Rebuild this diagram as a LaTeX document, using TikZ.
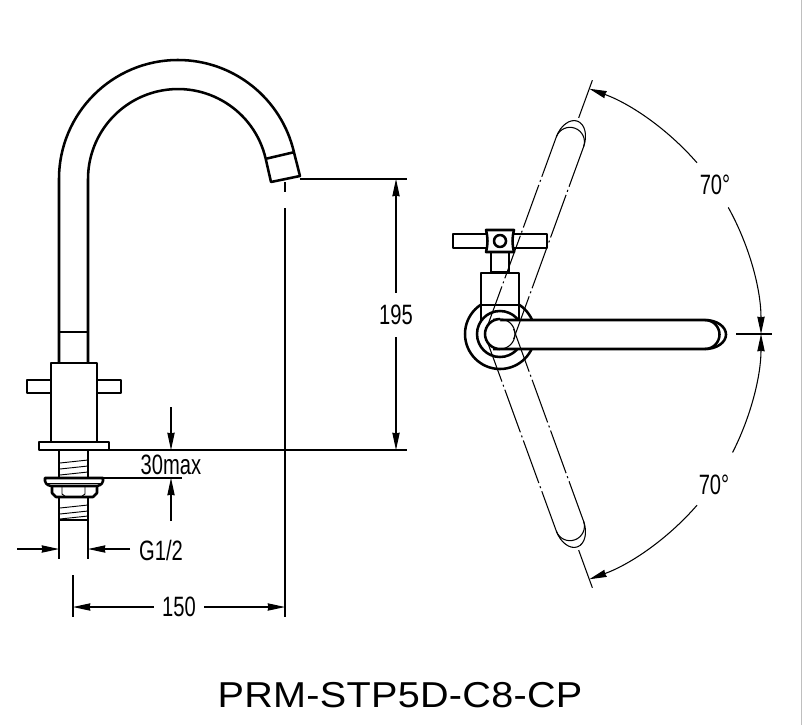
\documentclass[tikz,border=0pt]{standalone}
\usepackage{fontspec}
\usepackage{tikz}
\usetikzlibrary{arrows.meta,calc}
\newfontfamily\dimfont[FakeStretch=0.72]{Liberation Sans}
\newfontfamily\titlefont[FakeStretch=1.1,LetterSpace=0.8]{Liberation Sans}
\tikzset{
    thickline/.style={line width=1.9pt,line join=round},
    threadline/.style={line width=0.7pt},
    thinline/.style={line width=0.8pt},
    dimline/.style={line width=0.8pt,-{Stealth[length=13pt,width=5.5pt,inset=0.5pt]}},
    ghostline/.style={line width=0.8pt,dash pattern=on 34pt off 2.5pt on 1.5pt off 2.5pt},
    dimlabel/.style={font=\dimfont\fontsize{21}{21}\selectfont,inner sep=0pt},
    titlelabel/.style={font=\titlefont\fontsize{27}{27}\selectfont,inner sep=0pt}
}

\begin{document}
\begin{tikzpicture}[x=0.75pt,y=0.75pt,yscale=-1]
    \useasboundingbox (0,0) rectangle (805,725);
    \draw[lightgray,line width=0.8pt] (801.5,0) -- (801.5,725);

    \coordinate (hub) at (500,334);

    % spout
    \draw[thickline] (59,363) -- (59,179) arc[start angle=180,end angle=347,radius=119] -- (300,176) -- (271,182) -- (265.7,158.8) arc[start angle=347,end angle=180,radius=90] -- (88,363);
    \draw[thickline] (265.7,158.8) -- (294,152.2);
    \draw[thickline] (59,332) -- (88,332);

    % body
    \draw[thickline] (51,363) rectangle (97,442);
    \draw[thickline] (51,380) -- (27,380) -- (27,393) -- (51,393);
    \draw[thickline] (97,380) -- (121,380) -- (121,393) -- (97,393);
    \draw[thickline] (39,442) rectangle (109,450);
    \draw[thickline] (59,450) -- (59,478);
    \draw[thickline] (88,450) -- (88,478);
    \foreach \y in {462,468,474} {
        \draw[threadline] (60,\y+1) -- (88,\y-2);
    }
    \draw[thickline] (45,478) -- (103,478) -- (103,481) .. controls (102,485) and (99,486) .. (95,486) -- (53,486) .. controls (49,486) and (46,485) .. (45,481) -- cycle;
    \draw[threadline] (47,483) -- (101,483);
    \draw[thickline] (52,486) -- (52,493) -- (56,497) -- (93,497) -- (97,493) -- (97,486);
    \draw[threadline] (62,486) -- (62,494) -- (66,497);
    \draw[threadline] (85,486) -- (85,494) -- (81,497);
    \draw[thickline] (59,497) -- (59,520) -- (88,520) -- (88,497);
    \foreach \y in {507,513,518} {
        \draw[threadline] (60,\y+1) -- (88,\y-2);
    }

    % dimensions on the left view
    \coordinate (g1a) at (59,549);
    \coordinate (g1b) at (88,549);
    \coordinate (far) at (285,607);
    \coordinate (near) at (73,607);
    \draw[thinline] (59,520) -- (59,559);
    \draw[thinline] (88,520) -- (88,559);
    \draw[thinline] (109,450) -- (407,450);
    \draw[thinline] (103,478) -- (182,478);
    \draw[thinline] (300,179) -- (407,179);
    \draw[thinline] (73,575) -- (73,617);
    \draw[thinline] (285,182) -- (285,192);
    \draw[thinline] (285,208) -- (285,617);

    \node[dimlabel] (lblgone) at (161,550) {G1/2};
    \node[dimlabel] (lblthirty) at (171,465) {30max};
    \node[dimlabel,inner xsep=6pt] (lblonefifty) at (179,607) {150};
    \node[dimlabel,inner ysep=9pt] (lblonefive) at (396,315) {195};

    \draw[dimline] (17,549) -- (g1a);
    \draw[dimline] (130,549) -- (g1b);
    \draw[dimline] (171,407) -- (171,450);
    \draw[dimline] (171,521) -- (171,478);
    \draw[dimline] (lblonefifty) -- (near);
    \draw[dimline] (lblonefifty) -- (far);
    \draw[dimline] (lblonefive) -- (396,179);
    \draw[dimline] (lblonefive) -- (396,450);

    % side view
    \draw[thickline] (hub) circle (35);
    \draw[thickline,fill=white] (453,234) rectangle (547,248);
    \draw[thickline,fill=white] (491,252) rectangle (509,272);
    \draw[thickline,fill=white] (486,230) .. controls (488,237) and (488,245) .. (486,252) -- (514,252) .. controls (512,245) and (512,237) .. (514,230) -- cycle;
    \draw[thickline] (500,241) circle (6);
    \fill[white] (481,273) rectangle (519,322);
    \draw[thickline] (481,322) -- (481,273) -- (519,273) -- (519,322);
    \draw[thickline] (481,305) -- (519,305);
    \draw[thickline] (hub) circle (23);
    \fill[white] (498,320) -- (705,320) arc[start angle=-90,end angle=90,radius=14.5] -- (498,349) -- cycle;
    \draw[thickline] (493,320) -- (705,320) arc[start angle=-90,end angle=90,radius=14.5] -- (493,349);
    \draw[thickline] (705,320) arc[start angle=-90,end angle=90,x radius=21,y radius=14.5];
    \draw[thickline,fill=white] (500,319) arc[start angle=-90,end angle=-270,radius=15];
    \draw[thinline] (500,319) arc[start angle=-90,end angle=90,radius=15];

    % swung handle
    \begin{scope}[shift={(hub)},rotate=-70]
        \draw[ghostline] (0,-14.5) -- (204.5,-14.5);
        \draw[ghostline] (0,14.5) -- (204.5,14.5);
        \draw[thinline] (204.5,-14.5) arc[start angle=-90,end angle=90,radius=14.5];
        \draw[thinline] (204.5,-14.5) arc[start angle=-90,end angle=90,x radius=22,y radius=14.5];
    \end{scope}
    \begin{scope}[shift={(hub)},rotate=70]
        \draw[ghostline] (0,-14.5) -- (204.5,-14.5);
        \draw[ghostline] (0,14.5) -- (204.5,14.5);
        \draw[thinline] (204.5,-14.5) arc[start angle=-90,end angle=90,radius=14.5];
        \draw[thinline] (204.5,-14.5) arc[start angle=-90,end angle=90,x radius=22,y radius=14.5];
    \end{scope}

    % angle dimensions
    \draw[thinline] ($(hub)+(-70:230)$) -- ($(hub)+(-70:270)$);
    \draw[thinline] ($(hub)+(70:230)$) -- ($(hub)+(70:270)$);
    \draw[thinline] (736,334) -- (772,334);
    \draw[dimline] ($(hub)+(-41:261)$) arc[start angle=-41,end angle=-70,radius=261];
    \draw[dimline] ($(hub)+(-29:261)$) arc[start angle=-29,end angle=0,radius=261];
    \draw[dimline] ($(hub)+(41:261)$) arc[start angle=41,end angle=70,radius=261];
    \draw[dimline] ($(hub)+(27:261)$) arc[start angle=27,end angle=0,radius=261];

    \node[dimlabel] (lblupper) at (715,185) {70°};
    \node[dimlabel] (lbllower) at (714,485) {70°};

    \node[titlelabel] (lbltitle) at (400,695) {PRM-STP5D-C8-CP};
\end{tikzpicture}
\end{document}
